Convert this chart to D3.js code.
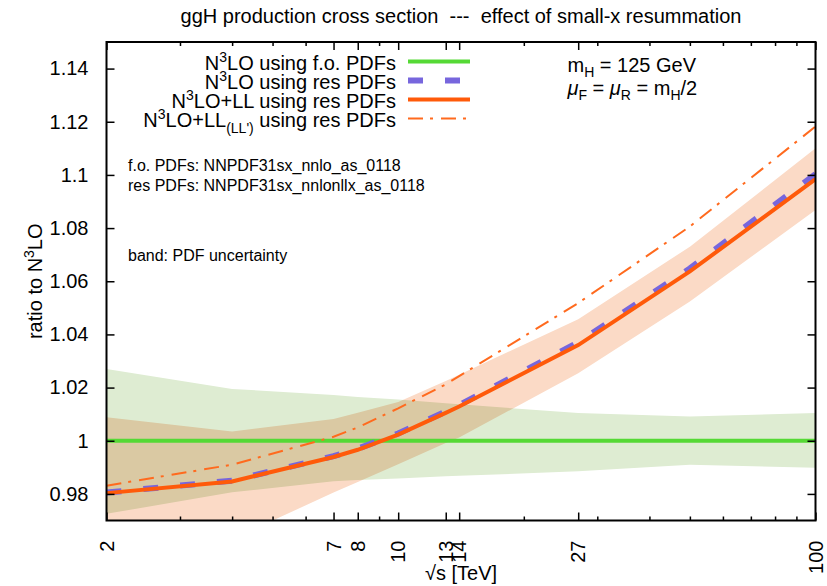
<!DOCTYPE html>
<html>
<head>
<meta charset="utf-8">
<script src="https://cdn.jsdelivr.net/npm/d3@7"></script>
<style>
  body { margin: 0; background: #fff; }
  svg { font-family: "Liberation Sans", Arial, Helvetica, sans-serif; }
</style>
</head>
<body>
<div id="my_dataviz"></div>
<script>
// sqrt(s) in TeV and the ratios
const energies = [2, 4, 7, 8, 10, 13, 14, 27, 50, 100];
const foCentral = [1, 1, 1, 1, 1, 1, 1, 1, 1, 1];
const foLow  = [0.9725, 0.9806, 0.9848, 0.9852, 0.9858, 0.9866, 0.9868, 0.9885, 0.9910, 0.9898];
const foHigh = [1.0270, 1.0195, 1.0172, 1.0165, 1.0155, 1.0141, 1.0137, 1.0104, 1.0091, 1.0104];
const resLow  = [0.9550, 0.9630, 0.9805, 0.9845, 0.9912, 0.9992, 1.0012, 1.0254, 1.0524, 1.0868];
const resHigh = [1.0088, 1.0035, 1.0082, 1.0105, 1.0146, 1.0225, 1.0248, 1.0457, 1.0730, 1.1100];
const n3loRes = [0.9805, 0.9850, 0.9942, 0.9970, 1.0027, 1.0110, 1.0134, 1.0370, 1.0648, 1.1003];
const n3loLL  = [0.9803, 0.9847, 0.9939, 0.9966, 1.0023, 1.0105, 1.0129, 1.0360, 1.0637, 1.0984];
const n3loLLp = [0.9831, 0.9910, 1.0015, 1.0050, 1.0122, 1.0212, 1.0243, 1.0518, 1.0806, 1.1182];

const xLabelTicks = [2, 7, 8, 10, 13, 14, 27, 100];
const xMinorTicks = [3, 4, 5, 6, 9, 20, 30, 40, 50, 60, 70, 80, 90];
const yTicks = [0.98, 1, 1.02, 1.04, 1.06, 1.08, 1.1, 1.12, 1.14];

// set the dimensions and margins of the graph
const margin = {top: 42, right: 11.5, bottom: 65.5, left: 106.5},
  width = 827 - margin.left - margin.right,
  height = 586 - margin.top - margin.bottom;

const root = d3.select("#my_dataviz")
.append("svg")
  .attr("width", width + margin.left + margin.right)
  .attr("height", height + margin.top + margin.bottom);

const svg = root.append("g")
  .attr("transform", "translate(" + margin.left + "," + margin.top + ")");

const x = d3.scaleLog().domain([2, 100]).range([0, width]);
const y = d3.scaleLinear().domain([0.97, 1.15]).range([height, 0]);

svg.append("clipPath").attr("id", "clip")
  .append("rect").attr("width", width).attr("height", height);

const plot = svg.append("g").attr("clip-path", "url(#clip)");

// PDF uncertainty bands
const band = (lo, hi) => d3.area()
  .x((d, i) => x(energies[i]))
  .y0((d, i) => y(lo[i]))
  .y1((d, i) => y(hi[i]))(energies);

plot.append("path").attr("d", band(foLow, foHigh))
  .attr("fill", "#deecd2");
plot.append("path").attr("d", band(resLow, resHigh))
  .attr("fill", "#fbdac6")
  .style("mix-blend-mode", "multiply");

const line = vals => d3.line()
  .x((d, i) => x(energies[i]))
  .y((d, i) => y(vals[i]))(energies);

const series = [
  {vals: foCentral, color: "#55d935", w: 4, dash: null},
  {vals: n3loRes, color: "#7766dd", w: 6, dash: "15,22"},
  {vals: n3loLL, color: "#ff5a0a", w: 4, dash: null},
  {vals: n3loLLp, color: "#ff6a1e", w: 2, dash: "15,7,3,8"}
];

series.forEach(s => {
  plot.append("path").attr("d", line(s.vals))
    .attr("fill", "none")
    .attr("stroke", s.color)
    .attr("stroke-width", s.w)
    .attr("stroke-dasharray", s.dash);
});

// axes: ticks point inward and are mirrored on all four sides
const tickStyle = g => {
  g.select(".domain").remove();
  g.selectAll("line").attr("stroke", "#000").attr("stroke-width", 1.5);
};

svg.append("g")
  .call(d3.axisLeft(y).tickValues(yTicks).tickSize(-8).tickPadding(18)
    .tickFormat(d3.format("")))
  .call(tickStyle)
  .call(g => g.selectAll("text").attr("font-size", 20).attr("fill", "#000")
    .attr("font-family", null));

svg.append("g").attr("transform", "translate(" + width + ",0)")
  .call(d3.axisRight(y).tickValues(yTicks).tickSize(-8).tickFormat(""))
  .call(tickStyle);

[[d3.axisBottom, height], [d3.axisTop, 0]].forEach(([ax, pos]) => {
  svg.append("g").attr("transform", "translate(0," + pos + ")")
    .call(ax(x).tickValues(xLabelTicks).tickSize(-8).tickFormat(""))
    .call(tickStyle);
  svg.append("g").attr("transform", "translate(0," + pos + ")")
    .call(ax(x).tickValues(xMinorTicks).tickSize(-4).tickFormat(""))
    .call(tickStyle);
});

// rotated x tick labels
svg.append("g").selectAll("text")
  .data(xLabelTicks)
  .join("text")
    .attr("transform", d => "translate(" + x(d) + "," + (height + 20) + ") rotate(-90)")
    .attr("text-anchor", "end")
    .attr("dy", "0.35em")
    .attr("font-size", 20)
    .text(d => d);

// frame
svg.append("rect")
  .attr("width", width).attr("height", height)
  .attr("fill", "none").attr("stroke", "#000").attr("stroke-width", 2);

// title and axis labels
root.append("text")
  .attr("x", margin.left + width / 2).attr("y", 23)
  .attr("text-anchor", "middle").attr("font-size", 20)
  .text("ggH production cross section  ---  effect of small-x resummation")
  .attr("xml:space", "preserve").style("white-space", "pre");

root.append("text")
  .attr("x", margin.left + width / 2).attr("y", 580)
  .attr("text-anchor", "middle").attr("font-size", 20)
  .text("\u221As [TeV]");

const yl = root.append("text")
  .attr("transform", "translate(42," + (margin.top + height / 2) + ") rotate(-90)")
  .attr("text-anchor", "middle").attr("font-size", 20);
yl.append("tspan").text("ratio to N");
yl.append("tspan").attr("font-size", 14).attr("dy", -8).text("3");
yl.append("tspan").attr("dy", 8).text("LO");

// legend
const legend = root.append("g");
const legendRows = [
  {parts: [["N"], ["3", "sup"], ["LO using f.o. PDFs"]]},
  {parts: [["N"], ["3", "sup"], ["LO using res PDFs"]]},
  {parts: [["N"], ["3", "sup"], ["LO+LL using res PDFs"]]},
  {parts: [["N"], ["3", "sup"], ["LO+LL"], ["(LL')", "sub"], [" using res PDFs"]]}
];

legendRows.forEach((row, i) => {
  const by = 69.5 + i * 19;
  const t = legend.append("text")
    .attr("x", 396).attr("y", by)
    .attr("text-anchor", "end").attr("font-size", 20)
    .style("white-space", "pre");
  let shift = 0;
  row.parts.forEach(([txt, kind]) => {
    const target = kind === "sup" ? -8 : kind === "sub" ? 6 : 0;
    t.append("tspan")
      .attr("dy", target - shift)
      .attr("font-size", kind ? 14 : 20)
      .text(txt);
    shift = target;
  });
  const s = series[i];
  legend.append("line")
    .attr("x1", 408).attr("x2", 470)
    .attr("y1", by - 8).attr("y2", by - 8)
    .attr("stroke", s.color).attr("stroke-width", s.w)
    .attr("stroke-dasharray", s.dash);
});

// info text
const info1 = root.append("text").attr("x", 567.5).attr("y", 71.5).attr("font-size", 20);
info1.append("tspan").text("m");
info1.append("tspan").attr("font-size", 14).attr("dy", 5).text("H");
info1.append("tspan").attr("dy", -5).text(" = 125 GeV");

const info2 = root.append("text").attr("x", 567.5).attr("y", 95).attr("font-size", 20)
  .style("white-space", "pre");
info2.append("tspan").attr("font-style", "italic").text("\u03BC");
info2.append("tspan").attr("font-size", 14).attr("dy", 5).text("F");
info2.append("tspan").attr("dy", -5).text(" = ");
info2.append("tspan").attr("font-style", "italic").text("\u03BC");
info2.append("tspan").attr("font-size", 14).attr("dy", 5).text("R");
info2.append("tspan").attr("dy", -5).text(" = m");
info2.append("tspan").attr("font-size", 14).attr("dy", 5).text("H");
info2.append("tspan").attr("dy", -5).text("/2");

const notes = [
  ["f.o. PDFs: NNPDF31sx_nnlo_as_0118", 170.5],
  ["res PDFs: NNPDF31sx_nnlonllx_as_0118", 190.5],
  ["band: PDF uncertainty", 261]
];
root.append("g").selectAll("text")
  .data(notes)
  .join("text")
    .attr("x", 128).attr("y", d => d[1])
    .attr("font-size", 16)
    .text(d => d[0]);
</script>
</body>
</html>
